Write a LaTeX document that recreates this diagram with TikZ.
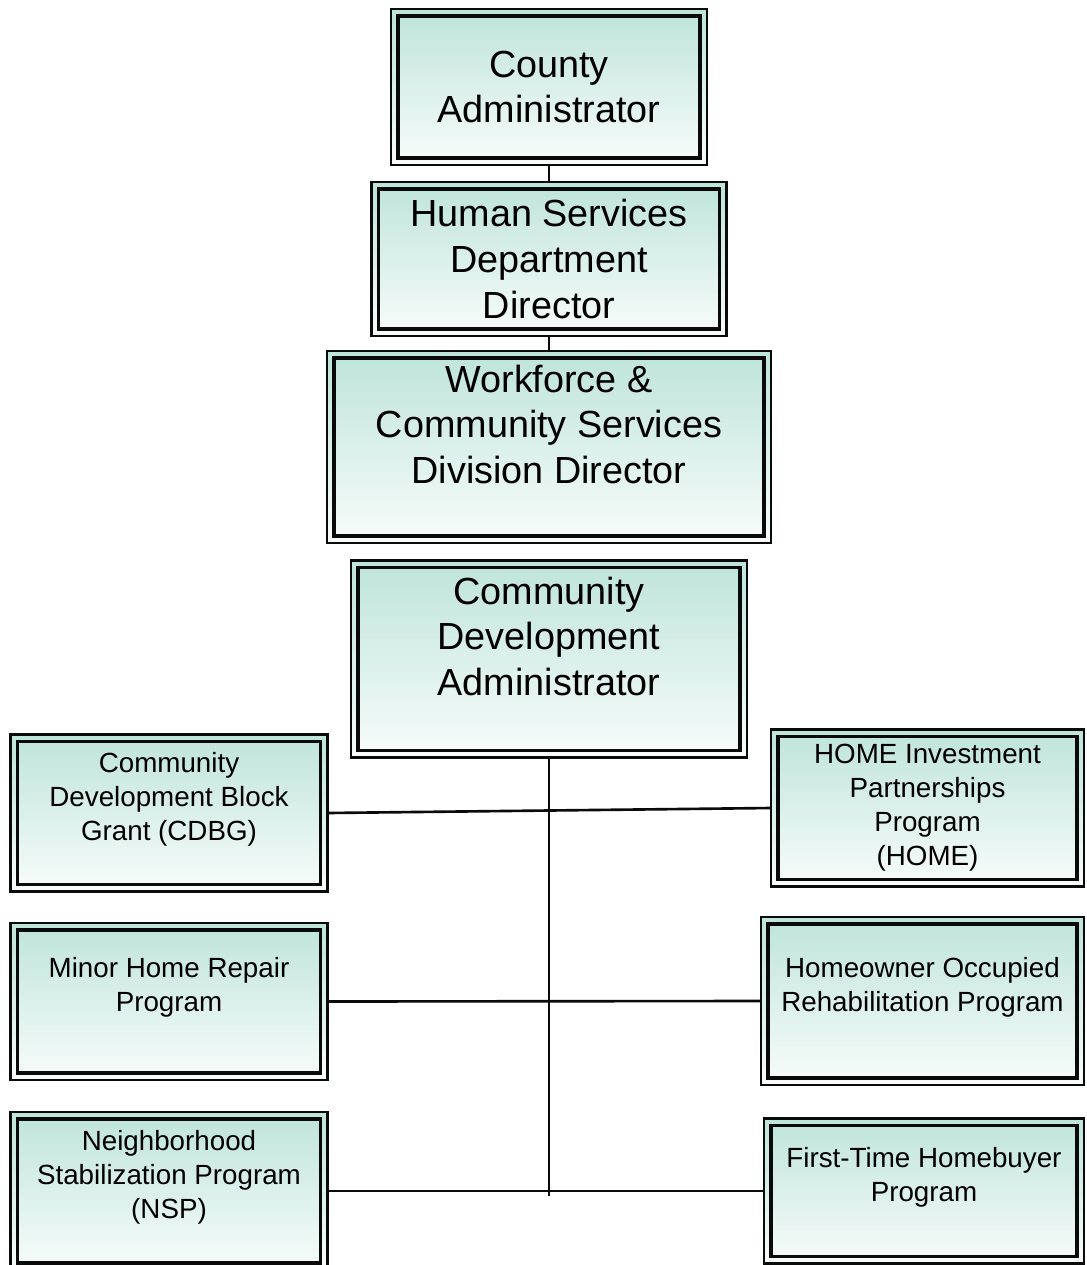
\documentclass[tikz,border=0pt]{standalone}
\usepackage{fontspec}
\setmainfont{Liberation Sans}
\usetikzlibrary{calc}
\definecolor{boxtop}{RGB}{190,228,217}
\definecolor{boxbot}{RGB}{248,252,251}
\definecolor{edgec}{RGB}{10,10,10}

\begin{document}
\begin{tikzpicture}[x=0.02cm,y=-0.02cm,
    orgbox/.style={rectangle,draw=edgec,line width=1.3pt,top color=boxtop,bottom color=boxbot,
      inner sep=0pt,outer sep=0pt,align=center,
      path picture={\draw[edgec,line width=1.8pt]
        ($(path picture bounding box.north west)+(7,7)$) rectangle
        ($(path picture bounding box.south east)+(-7,-7)$);}},
    bigbox/.style={orgbox,font=\fontsize{21.5}{26}\selectfont},
    smallbox/.style={orgbox,font=\fontsize{15.8}{19.3}\selectfont},
    link/.style={draw=edgec,line width=1.5pt}]
  \path[use as bounding box,fill=white] (0,0) rectangle (1086,1265);
  % chain of command
  \node[bigbox,minimum width=6.32cm,minimum height=3.12cm] (county) at (549,87)
    {County\\Administrator};
  \node[bigbox,minimum width=7.1cm,minimum height=3.08cm] (hsd) at (549,259)
    {Human Services\\Department\\Director};
  \node[bigbox,minimum width=8.88cm,minimum height=3.84cm] (wcs) at (549,447)
    {Workforce \&\\Community Services\\Division Director\\~};
  \node[bigbox,minimum width=7.92cm,minimum height=3.94cm] (cda) at (549,659)
    {Community\\Development\\Administrator\\~};
  % programs, left column
  \node[smallbox,minimum width=6.34cm,minimum height=3.14cm] (cdbg) at (169,813)
    {Community\\Development Block\\Grant (CDBG)\\~};
  \node[smallbox,minimum width=6.34cm,minimum height=3.14cm] (minor) at (169,1001.5)
    {Minor Home Repair\\Program\\~};
  \node[smallbox,minimum width=6.34cm,minimum height=3.16cm] (nsp) at (169,1191)
    {Neighborhood\\Stabilization Program\\(NSP)\\~};
  % programs, right column
  \node[smallbox,minimum width=6.26cm,minimum height=3.14cm] (home) at (927.5,808)
    {HOME Investment\\Partnerships\\Program\\(HOME)};
  \node[smallbox,minimum width=6.46cm,minimum height=3.36cm] (hocc) at (922.5,1001)
    {Homeowner Occupied\\Rehabilitation Program\\~};
  \node[smallbox,minimum width=6.4cm,minimum height=2.9cm] (fthb) at (924,1191)
    {First-Time Homebuyer\\Program\\~};
  % connectors
  \coordinate (trunkend) at (549,1196);
  \draw[link] (county.south) -- (hsd.north);
  \draw[link] (hsd.south) -- (wcs.north);
  \draw[link] (cda.south) -- (trunkend);
  \draw[link] (cdbg.east) -- (home.west);
  \draw[link] (minor.east) -- (hocc.west);
  \draw[link] (nsp.east) -- (fthb.west);
\end{tikzpicture}
\end{document}
